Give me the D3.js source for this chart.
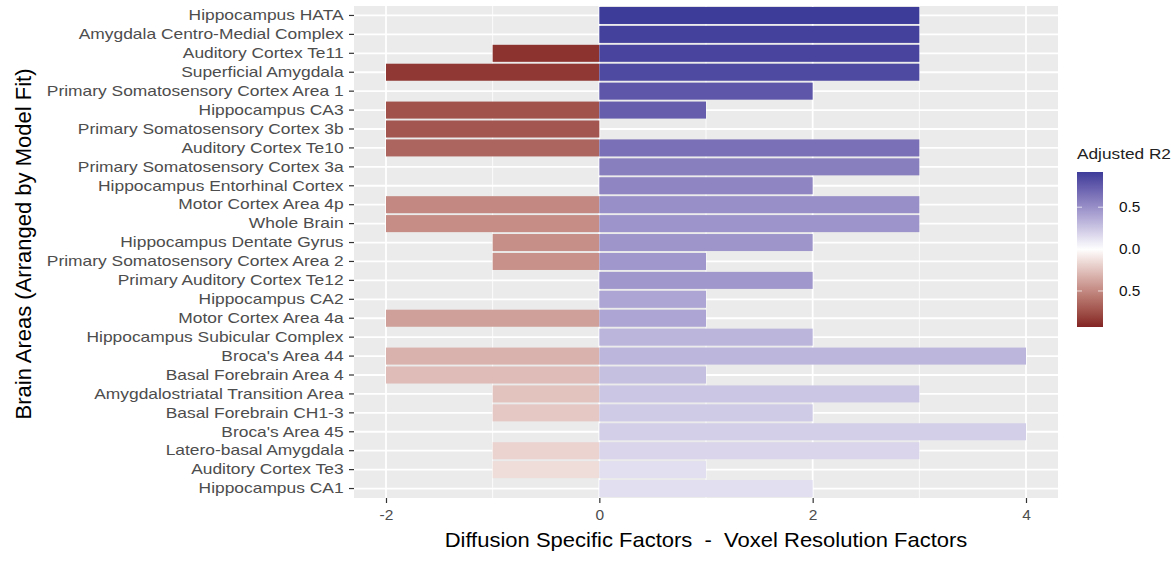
<!DOCTYPE html>
<html>
<head>
<meta charset="utf-8">
<script src="https://cdn.jsdelivr.net/npm/d3@7"></script>
<style>
  body { margin: 0; background: #fff; }
  text { font-family: "Liberation Sans", Arial, sans-serif; white-space: pre; }
</style>
</head>
<body>
<svg id="chart" width="1174" height="565"></svg>
<script>
// data, top row first (arranged by model fit)
var areas = ["Hippocampus HATA", "Amygdala Centro-Medial Complex", "Auditory Cortex Te11",
  "Superficial Amygdala", "Primary Somatosensory Cortex Area 1", "Hippocampus CA3",
  "Primary Somatosensory Cortex 3b", "Auditory Cortex Te10", "Primary Somatosensory Cortex 3a",
  "Hippocampus Entorhinal Cortex", "Motor Cortex Area 4p", "Whole Brain",
  "Hippocampus Dentate Gyrus", "Primary Somatosensory Cortex Area 2", "Primary Auditory Cortex Te12",
  "Hippocampus CA2", "Motor Cortex Area 4a", "Hippocampus Subicular Complex", "Broca's Area 44",
  "Basal Forebrain Area 4", "Amygdalostriatal Transition Area", "Basal Forebrain CH1-3",
  "Broca's Area 45", "Latero-basal Amygdala", "Auditory Cortex Te3", "Hippocampus CA1"];
var diffusionFactors = [0, 0, -1, -2, 0, -2, -2, -2, 0, 0, -2, -2, -1, -1, 0, 0, -2, 0, -2, -2, -1, -1, 0, -1, -1, 0];
var voxelFactors = [3, 3, 3, 3, 2, 1, 0, 3, 3, 2, 3, 3, 2, 1, 2, 1, 1, 2, 4, 1, 3, 2, 4, 3, 1, 2];
// adjusted R2 of each area (diffusion side is filled as -R2)
var adjustedR2 = [0.92, 0.89, 0.87, 0.85, 0.78, 0.74, 0.72, 0.65, 0.58, 0.55, 0.50, 0.48, 0.47,
  0.46, 0.46, 0.40, 0.40, 0.33, 0.32, 0.28, 0.25, 0.23, 0.21, 0.18, 0.14, 0.14];
var xTicks = [-2, 0, 2, 4];
var legendTicks = [0.5, 0, -0.5];
var legendLabels = ["0.5", "0.0", "0.5"];

var svg = d3.select("#chart");
var pLeft = 354, pRight = 1058, pTop = 6, pBottom = 498;
var stretch = 1.16; // text in the picture is drawn wider than it is tall

var x = d3.scaleLinear().domain([-2.3, 4.3]).range([pLeft, pRight]);
var y = d3.scaleBand().domain(areas).range([pTop, pBottom]).paddingInner(0.1).paddingOuter(0.05);
var fill = d3.scaleLinear().domain([-0.93, 0, 0.93])
  .range(["#832424", "#ffffff", "#3A3A98"]).interpolate(d3.interpolateLab);

// panel
svg.append("rect").attr("x", pLeft).attr("y", pTop).attr("width", pRight - pLeft).attr("height", pBottom - pTop)
  .attr("fill", "#EBEBEB");
// minor grid
[-1, 1, 3].forEach(function(v) {
  svg.append("line").attr("x1", x(v)).attr("x2", x(v)).attr("y1", pTop).attr("y2", pBottom)
    .attr("stroke", "#fff").attr("stroke-width", 0.8);
});
xTicks.forEach(function(v) {
  svg.append("line").attr("x1", x(v)).attr("x2", x(v)).attr("y1", pTop).attr("y2", pBottom)
    .attr("stroke", "#fff").attr("stroke-width", 1.8);
});
areas.forEach(function(a) {
  var cy = y(a) + y.bandwidth() / 2;
  svg.append("line").attr("x1", pLeft).attr("x2", pRight).attr("y1", cy).attr("y2", cy)
    .attr("stroke", "#fff").attr("stroke-width", 1.8);
});

// bars
var rows = areas.map(function(a, i) {
  return {name: a, neg: diffusionFactors[i], pos: voxelFactors[i], r2: adjustedR2[i]};
});
svg.append("g").selectAll("rect").data(rows.filter(function(d) { return d.neg < 0; }))
  .enter().append("rect")
  .attr("x", function(d) { return x(d.neg); })
  .attr("width", function(d) { return x(0) - x(d.neg); })
  .attr("y", function(d) { return y(d.name); })
  .attr("height", y.bandwidth())
  .attr("fill", function(d) { return fill(-d.r2); });
svg.append("g").selectAll("rect").data(rows.filter(function(d) { return d.pos > 0; }))
  .enter().append("rect")
  .attr("x", x(0))
  .attr("width", function(d) { return x(d.pos) - x(0); })
  .attr("y", function(d) { return y(d.name); })
  .attr("height", y.bandwidth())
  .attr("fill", function(d) { return fill(d.r2); });

// axes
var yAxis = svg.append("g").attr("transform", "translate(" + pLeft + ",0)")
  .call(d3.axisLeft(y).tickSize(5).tickPadding(4));
var xAxis = svg.append("g").attr("transform", "translate(0," + pBottom + ")")
  .call(d3.axisBottom(x).tickValues(xTicks).tickFormat(function(d) { return String(d); })
    .tickSize(5).tickPadding(6));
[yAxis, xAxis].forEach(function(g) {
  g.select(".domain").remove();
  g.selectAll(".tick line").attr("stroke", "#333").attr("stroke-width", 1.2);
  g.selectAll(".tick text").attr("fill", "#4D4D4D").style("font-size", "15px")
    .style("font-family", "'Liberation Sans', Arial, sans-serif")
    .attr("transform", "scale(" + stretch + ",1)");
});
xAxis.selectAll(".tick text").attr("transform", null).style("font-size", "15.5px");

svg.append("text").attr("transform", "translate(706,547) scale(1.1,1)").attr("text-anchor", "middle")
  .style("font-size", "20px").attr("fill", "#000")
  .text("Diffusion Specific Factors  -  Voxel Resolution Factors");
svg.append("text").attr("transform", "translate(31,244) rotate(-90)").attr("text-anchor", "middle")
  .style("font-size", "22px").attr("fill", "#000")
  .text("Brain Areas (Arranged by Model Fit)");

// legend
var lg = svg.append("g");
var defs = svg.append("defs");
var grad = defs.append("linearGradient").attr("id", "lgrad").attr("x1", 0).attr("x2", 0).attr("y1", 0).attr("y2", 1);
var ly = d3.scaleLinear().domain([0.92, -0.93]).range([172, 327]);
d3.range(0, 1.0001, 0.05).forEach(function(t) {
  var v = ly.invert(172 + t * 155);
  grad.append("stop").attr("offset", t).attr("stop-color", fill(v));
});
lg.append("text").attr("transform", "translate(1077,159) scale(1.15,1)").style("font-size", "15px")
  .attr("fill", "#222").text("Adjusted R2");
lg.append("rect").attr("x", 1077).attr("y", 172).attr("width", 26).attr("height", 155).attr("fill", "url(#lgrad)");
legendTicks.forEach(function(v, i) {
  var yy = ly(v);
  lg.append("line").attr("x1", 1077).attr("x2", 1082).attr("y1", yy).attr("y2", yy).attr("stroke", "#fff").attr("stroke-opacity", 0.7);
  lg.append("line").attr("x1", 1098).attr("x2", 1103).attr("y1", yy).attr("y2", yy).attr("stroke", "#fff").attr("stroke-opacity", 0.7);
  lg.append("text").attr("transform", "translate(1119," + (yy + 5) + ") scale(1.1,1)")
    .style("font-size", "14px").attr("fill", "#111").text(legendLabels[i]);
});
</script>
</body>
</html>
